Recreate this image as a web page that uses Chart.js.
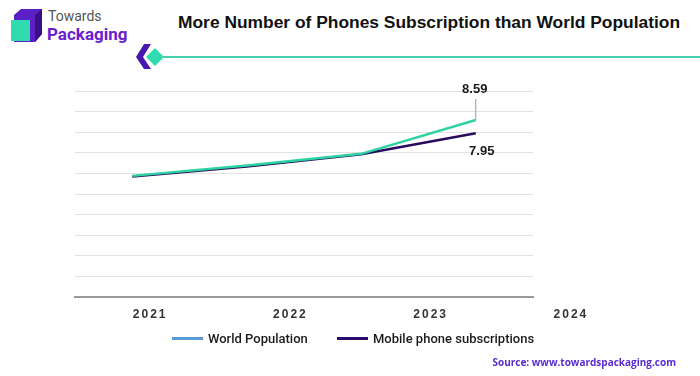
<!DOCTYPE html>
<html>
<head>
<meta charset="utf-8">
<script src="https://cdn.jsdelivr.net/npm/chart.js@4.4.1/dist/chart.umd.min.js"></script>
<style>
  html,body{margin:0;padding:0;background:#fff;}
  #wrap{position:relative;width:700px;height:376px;overflow:hidden;font-family:Roboto,"Liberation Sans",sans-serif;}
  #c{position:absolute;left:0;top:0;}
  #cx{position:absolute;left:0;top:293px;}
  .title{position:absolute;left:178px;top:12px;font:700 17.4px "Liberation Sans",Arial,sans-serif;color:#111;white-space:nowrap;}
  .tw{position:absolute;left:48px;top:8px;font:400 14px Roboto,sans-serif;color:#555;}
  .pk{position:absolute;left:47px;top:24px;font:700 17px Roboto,sans-serif;color:#6a1ccf;}
  .hline{position:absolute;left:160px;top:56px;width:540px;height:2px;background:#45d1ae;}
  .legend{position:absolute;top:330px;left:0;width:700px;height:18px;font:500 13px Roboto,sans-serif;color:#1a1a1a;}
  .li{position:absolute;top:0;line-height:18px;white-space:nowrap;}
  .sw{display:inline-block;width:31px;height:3px;vertical-align:middle;margin-right:5px;position:relative;top:-1px;}
  .src{position:absolute;right:24px;top:355px;font:700 10px "Open Sans",sans-serif;color:#5a2bd3;}
</style>
</head>
<body>
<div id="wrap">
  <svg style="position:absolute;left:8px;top:8px" width="38" height="38" viewBox="0 0 38 38">
    <polygon points="6,7 13,1 34,1 34,26 27,34 6,34" fill="#5b1fc7"/>
    <polygon points="27,7 34,1 34,26 27,34" fill="#3a0f86"/>
    <rect x="3" y="12" width="19" height="21" fill="#2fdcb0"/>
  </svg>
  <div class="tw">Towards</div>
  <div class="pk">Packaging</div>
  <div class="title">More Number of Phones Subscription than World Population</div>
  <svg style="position:absolute;left:136px;top:44px" width="32" height="26" viewBox="0 0 32 26">
    <polygon points="8,0 15,0 7,13 15,25 8,25 0,13" fill="#4a16b0"/>
    <polygon points="19,4 28,13 19,22 10,13" fill="#2fdcb0"/>
  </svg>
  <div class="hline"></div>
  <canvas id="c" width="700" height="376"></canvas>
  <canvas id="cx" width="700" height="30"></canvas>
  <div class="legend">
    <div class="li" style="left:172px"><span class="sw" style="background:#5b9bd5"></span>World Population</div>
    <div class="li" style="left:337px"><span class="sw" style="background:#2a0a6b"></span>Mobile phone subscriptions</div>
  </div>
  <div class="src">Source: www.towardspackaging.com</div>
</div>
<script>
const categories = ["2021", "2022", "2023", "2024"];
const worldPopulation = [5.88, 6.38, 6.95, 8.59];
const mobileSubscriptions = [5.85, 6.33, 6.93, 7.95];
const yTicks = [0, 1, 2, 3, 4, 5, 6, 7, 8, 9, 10];

const labelPlugin = {
  id: 'endLabels',
  afterDatasetsDraw(chart) {
    const ctx = chart.ctx;
    const xs = chart.scales.x, ys = chart.scales.y;
    const last = categories.length - 1;
    const x = xs.getPixelForValue(last);
    const yW = ys.getPixelForValue(worldPopulation[last]);
    const yM = ys.getPixelForValue(mobileSubscriptions[last]);
    ctx.save();
    ctx.strokeStyle = '#9a9a9a';
    ctx.lineWidth = 1;
    ctx.beginPath();
    ctx.moveTo(x, yW - 21);
    ctx.lineTo(x, yW);
    ctx.stroke();
    ctx.fillStyle = '#1a1a1a';
    ctx.font = '700 13px "Liberation Sans", Arial, sans-serif';
    ctx.textAlign = 'center';
    ctx.textBaseline = 'middle';
    ctx.fillText(worldPopulation[last].toFixed(2), x - 1, yW - 31);
    ctx.fillText(mobileSubscriptions[last].toFixed(2), x + 6, yM + 18);
    ctx.restore();
  }
};

new Chart(document.getElementById('c'), {
  type: 'line',
  data: {
    labels: categories,
    datasets: [
      { label: 'World Population', data: worldPopulation, borderColor: '#2dd3a2', backgroundColor: '#2dd3a2', borderWidth: 2.5, pointRadius: 0, tension: 0 },
      { label: 'Mobile phone subscriptions', data: mobileSubscriptions, borderColor: '#2a0a5e', backgroundColor: '#2a0a5e', borderWidth: 2.5, pointRadius: 0, tension: 0 }
    ]
  },
  options: {
    responsive: false,
    animation: false,
    layout: { padding: { left: 75, right: 167, top: 91, bottom: 79 } },
    plugins: { legend: { display: false }, tooltip: { enabled: false } },
    scales: {
      x: {
        offset: true,
        grid: { display: false, drawTicks: false },
        border: { display: true, color: '#9a9a9a', width: 2 },
        ticks: { display: false }
      },
      y: {
        min: yTicks[0], max: yTicks[yTicks.length - 1],
        afterBuildTicks(axis) { axis.ticks = yTicks.map(v => ({ value: v })); },
        grid: { color: '#e2e2e2', lineWidth: 1, drawTicks: false },
        border: { display: false },
        ticks: { display: false }
      }
    }
  },
  plugins: [labelPlugin]
});

// category axis for the year labels (spread wider than the plot in the original)
new Chart(document.getElementById('cx'), {
  type: 'line',
  data: { labels: categories, datasets: [] },
  options: {
    responsive: false,
    animation: false,
    layout: { padding: { left: 80, right: 59, top: 0, bottom: 2 } },
    plugins: { legend: { display: false }, tooltip: { enabled: false } },
    scales: {
      x: {
        offset: true,
        grid: { display: false, drawTicks: false },
        border: { display: false },
        ticks: { padding: 0, maxRotation: 0, minRotation: 0, autoSkip: false, color: '#333', font: { family: '"Liberation Sans", Arial, sans-serif', size: 12, weight: 'bold' } }
      },
      y: { display: false }
    }
  },
  plugins: [{
    id: 'spacing',
    beforeDraw(chart) { chart.ctx.letterSpacing = '2px'; }
  }]
});
</script>
</body>
</html>
